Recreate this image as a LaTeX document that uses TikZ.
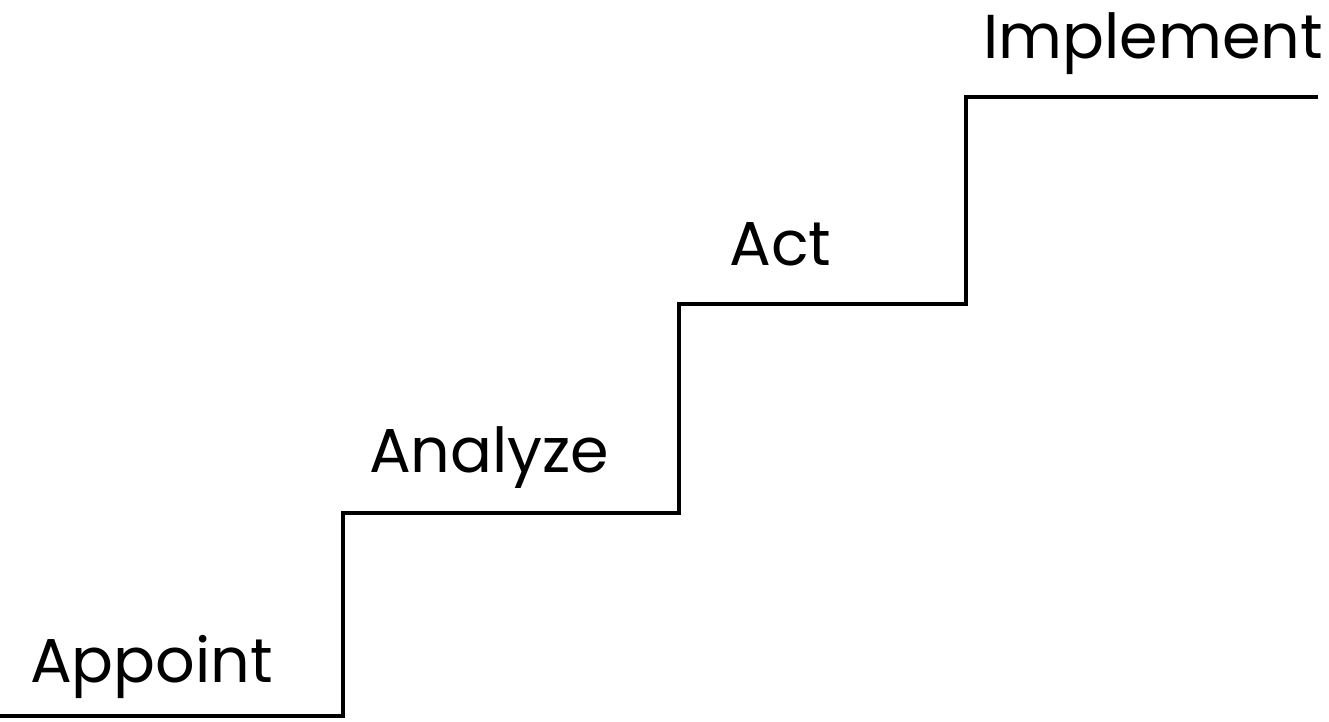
\documentclass[tikz,border=0pt]{standalone}
\usepackage{fontspec}
\setmainfont{Poppins}
\begin{document}
\begin{tikzpicture}[x=1pt,y=-1pt,
  stair/.style={line width=4.6pt,line join=miter,black},
  lbl/.style={anchor=base west,inner sep=0pt,font=\fontsize{62}{66}\selectfont}]
\useasboundingbox (0,0) rectangle (1329,721);
\coordinate (s0) at (0,716);
\coordinate (c1) at (343,716);
\coordinate (t1) at (343,513);
\coordinate (c2) at (679,513);
\coordinate (t2) at (679,304);
\coordinate (c3) at (966,304);
\coordinate (t3) at (966,97);
\coordinate (e) at (1318,97);
\draw[stair] (s0) -- (c1) -- (t1) -- (c2) -- (t2) -- (c3) -- (t3) -- (e);
\node[lbl] (appoint) at (30,682) {Appoint};
\node[lbl] (analyze) at (369,472) {Analyze};
\node[lbl] (act) at (729,265) {Act};
\node[lbl,anchor=base east] (implement) at (1323,58) {Implement};
\end{tikzpicture}
\end{document}
